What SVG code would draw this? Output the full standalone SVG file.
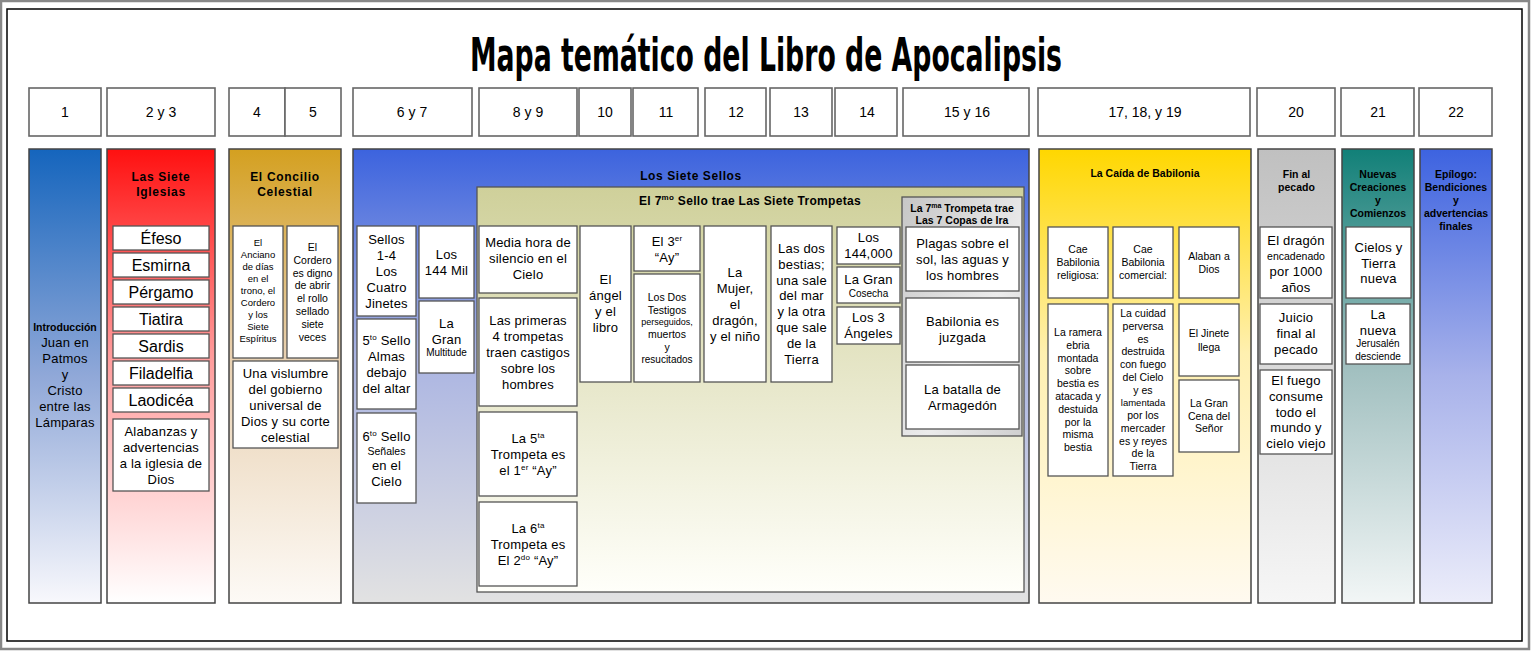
<svg xmlns="http://www.w3.org/2000/svg" width="1536" height="652" viewBox="0 0 1536 652">
<defs>
<linearGradient id="gBlue1" x1="0" y1="0" x2="0" y2="1"><stop offset="0" stop-color="#1565bd"/><stop offset="0.5" stop-color="#90a8d8"/><stop offset="1" stop-color="#f8f8fc"/></linearGradient>
<linearGradient id="gRed" x1="0" y1="0" x2="0" y2="1"><stop offset="0" stop-color="#ff1010"/><stop offset="0.45" stop-color="#ff9a9a"/><stop offset="1" stop-color="#ffffff"/></linearGradient>
<linearGradient id="gGold" x1="0" y1="0" x2="0" y2="1"><stop offset="0" stop-color="#d4a020"/><stop offset="0.45" stop-color="#e8d0b0"/><stop offset="1" stop-color="#fdfaf6"/></linearGradient>
<linearGradient id="gSeals" x1="0" y1="0" x2="0" y2="1"><stop offset="0" stop-color="#3c63de"/><stop offset="0.45" stop-color="#aab4e2"/><stop offset="1" stop-color="#e2e2e2"/></linearGradient>
<linearGradient id="gOlive" x1="0" y1="0" x2="0" y2="1"><stop offset="0" stop-color="#cfd09a"/><stop offset="0.5" stop-color="#e8e8cc"/><stop offset="1" stop-color="#fffffa"/></linearGradient>
<linearGradient id="gGray7" x1="0" y1="0" x2="1" y2="1"><stop offset="0" stop-color="#c6c6c6"/><stop offset="0.6" stop-color="#ececec"/><stop offset="1" stop-color="#cfcfcf"/></linearGradient>
<linearGradient id="gYellow" x1="0" y1="0" x2="0" y2="1"><stop offset="0" stop-color="#ffd700"/><stop offset="0.45" stop-color="#fff0b0"/><stop offset="1" stop-color="#fffaf0"/></linearGradient>
<linearGradient id="gGray" x1="0" y1="0" x2="0" y2="1"><stop offset="0" stop-color="#c0c0c0"/><stop offset="1" stop-color="#f6f6f6"/></linearGradient>
<linearGradient id="gTeal" x1="0" y1="0" x2="0" y2="1"><stop offset="0" stop-color="#118078"/><stop offset="0.45" stop-color="#9cbcbc"/><stop offset="1" stop-color="#f2f6f6"/></linearGradient>
<linearGradient id="gBlue2" x1="0" y1="0" x2="0" y2="1"><stop offset="0" stop-color="#3d63e0"/><stop offset="0.5" stop-color="#a8b2ea"/><stop offset="1" stop-color="#ecedfa"/></linearGradient>
</defs>
<style>
text{font-family:"Liberation Sans",Arial,sans-serif;fill:#000;text-anchor:middle}
.hdr rect{fill:#fff;stroke:#666;stroke-width:1.6}
.hdr text{font-size:14px}
.col{stroke:#444;stroke-width:1.5}
.box{fill:#fff;stroke:#555;stroke-width:1.3}
.t16{font-size:16px}
.t13{font-size:13px;letter-spacing:0.2px}
.t105{font-size:10.5px}
.t10{font-size:10px}
.t95{font-size:9.5px}
.t9{font-size:9px}
.b12{font-size:12px;font-weight:bold;letter-spacing:0.7px}
.b105{font-size:10.5px;font-weight:bold}
.title{font-family:"Liberation Sans Narrow","DejaVu Sans Condensed","Liberation Sans",sans-serif;font-weight:bold;font-size:46px}
</style>
<rect x="1" y="1" width="1528" height="648" fill="#fff" stroke="#888" stroke-width="2.5"/>
<rect x="7" y="9" width="1515" height="632" fill="#fff" stroke="#000" stroke-width="1.5"/>
<text id="title" class="title" x="766" y="71" textLength="592" lengthAdjust="spacingAndGlyphs">Mapa temático del Libro de Apocalipsis</text>

<g id="headers" class="hdr">
<rect x="29" y="88" width="72" height="48"/><text x="65" y="117">1</text>
<rect x="107" y="88" width="108" height="48"/><text x="161" y="117">2 y 3</text>
<rect x="229" y="88" width="56" height="48"/><text x="257" y="117">4</text>
<rect x="285" y="88" width="56" height="48"/><text x="313" y="117">5</text>
<rect x="353" y="88" width="119" height="48"/><text x="412" y="117">6 y 7</text>
<rect x="479" y="88" width="98" height="48"/><text x="528" y="117">8 y 9</text>
<rect x="579" y="88" width="52" height="48"/><text x="605" y="117">10</text>
<rect x="633" y="88" width="65" height="48"/><text x="666" y="117">11</text>
<rect x="705" y="88" width="61" height="48"/><text x="736" y="117">12</text>
<rect x="770" y="88" width="62" height="48"/><text x="801" y="117">13</text>
<rect x="835" y="88" width="62" height="48"/><text x="867" y="117">14</text>
<rect x="903" y="88" width="126" height="48"/><text x="967" y="117">15 y 16</text>
<rect x="1038" y="88" width="212" height="48"/><text x="1145" y="117">17, 18, y 19</text>
<rect x="1257" y="88" width="78" height="48"/><text x="1296" y="117">20</text>
<rect x="1341" y="88" width="73" height="48"/><text x="1378" y="117">21</text>
<rect x="1419" y="88" width="73" height="48"/><text x="1456" y="117">22</text>
</g>

<g id="col-intro">
<rect class="col" x="29" y="149" width="72" height="454" fill="url(#gBlue1)"/>
<text class="b105" x="65" y="331">Introducción</text>
<text class="t13" x="65" y="347">Juan en<tspan x="65" dy="15.5">Patmos</tspan><tspan x="65" dy="16">y</tspan><tspan x="65" dy="16">Cristo</tspan><tspan x="65" dy="16">entre las</tspan><tspan x="65" dy="16">Lámparas</tspan></text>
</g>

<g id="col-iglesias">
<rect class="col" x="107" y="149" width="108" height="454" fill="url(#gRed)"/>
<text class="b12" x="161" y="181">Las Siete<tspan x="161" dy="15">Iglesias</tspan></text>
<g id="n-efeso"><rect class="box" x="113" y="226" width="96" height="24"/><text class="t16" x="161" y="244">Éfeso</text></g>
<g id="n-esmirna"><rect class="box" x="113" y="253" width="96" height="24"/><text class="t16" x="161" y="271">Esmirna</text></g>
<g id="n-pergamo"><rect class="box" x="113" y="280" width="96" height="24"/><text class="t16" x="161" y="298">Pérgamo</text></g>
<g id="n-tiatira"><rect class="box" x="113" y="307" width="96" height="24"/><text class="t16" x="161" y="325">Tiatira</text></g>
<g id="n-sardis"><rect class="box" x="113" y="334" width="96" height="24"/><text class="t16" x="161" y="352">Sardis</text></g>
<g id="n-filadelfia"><rect class="box" x="113" y="361" width="96" height="24"/><text class="t16" x="161" y="379">Filadelfia</text></g>
<g id="n-laodicea"><rect class="box" x="113" y="388" width="96" height="24"/><text class="t16" x="161" y="406">Laodicéa</text></g>
<g id="n-alabanzas"><rect class="box" x="113" y="419" width="96" height="72"/><text class="t13" x="161" y="436">Alabanzas y<tspan x="161" dy="16">advertencias</tspan><tspan x="161" dy="16">a la iglesia de</tspan><tspan x="161" dy="16">Dios</tspan></text></g>
</g>

<g id="col-concilio">
<rect class="col" x="229" y="149" width="112" height="454" fill="url(#gGold)"/>
<text class="b12" x="285" y="181">El Concilio<tspan x="285" dy="15">Celestial</tspan></text>
<g id="n-anciano"><rect class="box" x="233" y="226" width="50" height="132"/><text class="t95" x="258" y="246">El<tspan x="258" dy="12">Anciano</tspan><tspan x="258" dy="12">de días</tspan><tspan x="258" dy="12">en el</tspan><tspan x="258" dy="12">trono, el</tspan><tspan x="258" dy="12">Cordero</tspan><tspan x="258" dy="12">y los</tspan><tspan x="258" dy="12">Siete</tspan><tspan x="258" dy="12">Espíritus</tspan></text></g>
<g id="n-cordero"><rect class="box" x="287" y="226" width="51" height="132"/><text class="t105" x="312.5" y="251">El<tspan x="312.5" dy="12.8">Cordero</tspan><tspan x="312.5" dy="12.8">es digno</tspan><tspan x="312.5" dy="12.8">de abrir</tspan><tspan x="312.5" dy="12.8">el rollo</tspan><tspan x="312.5" dy="12.8">sellado</tspan><tspan x="312.5" dy="12.8">siete</tspan><tspan x="312.5" dy="12.8">veces</tspan></text></g>
<g id="n-vislumbre"><rect class="box" x="233" y="361" width="105" height="87"/><text class="t13" x="285.5" y="378">Una vislumbre<tspan x="285.5" dy="16">del gobierno</tspan><tspan x="285.5" dy="16">universal de</tspan><tspan x="285.5" dy="16">Dios y su corte</tspan><tspan x="285.5" dy="16">celestial</tspan></text></g>
</g>

<g id="col-sellos">
<rect class="col" x="353" y="149" width="676" height="454" fill="url(#gSeals)"/>
<text class="t13" x="691" y="180" style="font-weight:bold;font-size:12px;letter-spacing:0.6px">Los Siete Sellos</text>
<g id="n-sellos14"><rect class="box" x="357" y="226" width="59" height="90"/><text class="t13" x="386.5" y="244">Sellos<tspan x="386.5" dy="16">1-4</tspan><tspan x="386.5" dy="16">Los</tspan><tspan x="386.5" dy="16">Cuatro</tspan><tspan x="386.5" dy="16">Jinetes</tspan></text></g>
<g id="n-144mil"><rect class="box" x="419" y="226" width="55" height="72"/><text class="t13" x="446.5" y="259">Los<tspan x="446.5" dy="16">144 Mil</tspan></text></g>
<g id="n-sello5"><rect class="box" x="357" y="319" width="59" height="90"/><text class="t13" x="386.5" y="345">5<tspan font-size="8" dy="-5">to</tspan><tspan dy="5"> Sello</tspan><tspan x="386.5" dy="16">Almas</tspan><tspan x="386.5" dy="16">debajo</tspan><tspan x="386.5" dy="16">del altar</tspan></text></g>
<g id="n-multitud"><rect class="box" x="419" y="301" width="55" height="72"/><text class="t13" x="446.5" y="328">La<tspan x="446.5" dy="16">Gran</tspan></text><text class="t10" x="446.5" y="356">Multitude</text></g>
<g id="n-sello6"><rect class="box" x="357" y="413" width="59" height="90"/><text class="t13" x="386.5" y="441">6<tspan font-size="8" dy="-5">to</tspan><tspan dy="5"> Sello</tspan></text><text class="t105" x="386.5" y="455">Señales</text><text class="t13" x="386.5" y="470">en el<tspan x="386.5" dy="16">Cielo</tspan></text></g>

<g id="panel-trompetas">
<rect x="477" y="187" width="547" height="405" fill="url(#gOlive)" stroke="#555" stroke-width="1.3"/>
<text class="b12" x="750" y="205" style="letter-spacing:0.3px">El 7<tspan font-size="8" dy="-5">mo</tspan><tspan dy="5"> Sello trae Las Siete Trompetas</tspan></text>
<g id="n-mediahora"><rect class="box" x="479" y="226" width="98" height="67"/><text class="t13" x="528" y="247">Media hora de<tspan x="528" dy="16">silencio en el</tspan><tspan x="528" dy="16">Cielo</tspan></text></g>
<g id="n-primeras"><rect class="box" x="479" y="298" width="98" height="108"/><text class="t13" x="528" y="325">Las primeras<tspan x="528" dy="16">4 trompetas</tspan><tspan x="528" dy="16">traen castigos</tspan><tspan x="528" dy="16">sobre los</tspan><tspan x="528" dy="16">hombres</tspan></text></g>
<g id="n-trompeta5"><rect class="box" x="479" y="412" width="98" height="84"/><text class="t13" x="528" y="443">La 5<tspan font-size="8" dy="-5">ta</tspan><tspan x="528" dy="21">Trompeta es</tspan><tspan x="528" dy="16">el  1</tspan><tspan font-size="8" dy="-5">er</tspan><tspan dy="5"> “Ay”</tspan></text></g>
<g id="n-trompeta6"><rect class="box" x="479" y="502" width="98" height="84"/><text class="t13" x="528" y="533">La 6<tspan font-size="8" dy="-5">ta</tspan><tspan x="528" dy="21">Trompeta es</tspan><tspan x="528" dy="16">El 2</tspan><tspan font-size="8" dy="-5">do</tspan><tspan dy="5"> “Ay”</tspan></text></g>
<g id="n-angel"><rect class="box" x="580" y="226" width="51" height="156"/><text class="t13" x="605.5" y="284">El<tspan x="605.5" dy="16">ángel</tspan><tspan x="605.5" dy="16">y el</tspan><tspan x="605.5" dy="16">libro</tspan></text></g>
<g id="n-ay3"><rect class="box" x="634" y="226" width="66" height="45"/><text class="t13" x="667" y="246">El 3<tspan font-size="8" dy="-5">er</tspan><tspan x="667" dy="21">“Ay”</tspan></text></g>
<g id="n-testigos"><rect class="box" x="634" y="274" width="66" height="108"/><text class="t105" x="667" y="301">Los Dos<tspan x="667" dy="12.5">Testigos</tspan></text><text class="t9" x="667" y="325">perseguidos,</text><text class="t105" x="667" y="338">muertos<tspan x="667" dy="12.5">y</tspan></text><text class="t10" x="667" y="363">resucitados</text></g>
<g id="n-mujer"><rect class="box" x="704" y="226" width="62" height="156"/><text class="t13" x="735" y="277">La<tspan x="735" dy="16">Mujer,</tspan><tspan x="735" dy="16">el</tspan><tspan x="735" dy="16">dragón,</tspan><tspan x="735" dy="16">y el niño</tspan></text></g>
<g id="n-bestias"><rect class="box" x="771" y="226" width="61" height="156"/><text class="t13" x="801.5" y="253">Las dos<tspan x="801.5" dy="15.8">bestias;</tspan><tspan x="801.5" dy="15.8">una sale</tspan><tspan x="801.5" dy="15.8">del mar</tspan><tspan x="801.5" dy="15.8">y la otra</tspan><tspan x="801.5" dy="15.8">que sale</tspan><tspan x="801.5" dy="15.8">de la</tspan><tspan x="801.5" dy="15.8">Tierra</tspan></text></g>
<g id="n-144000"><rect class="box" x="837" y="227" width="63" height="37"/><text class="t13" x="868.5" y="242">Los<tspan x="868.5" dy="16">144,000</tspan></text></g>
<g id="n-cosecha"><rect class="box" x="837" y="267" width="63" height="36"/><text class="t13" x="868.5" y="284">La Gran</text><text class="t10" x="868.5" y="297">Cosecha</text></g>
<g id="n-3angeles"><rect class="box" x="837" y="307" width="63" height="37"/><text class="t13" x="868.5" y="322">Los 3<tspan x="868.5" dy="16">Ángeles</tspan></text></g>

<g id="panel-copas">
<rect x="902" y="197" width="120" height="239" fill="url(#gGray7)" stroke="#555" stroke-width="1.3"/>
<text class="b105" x="962" y="212">La 7<tspan font-size="7" dy="-4">ma</tspan><tspan dy="4"> Trompeta trae</tspan><tspan x="962" dy="12">Las 7 Copas de Ira</tspan></text>
<g id="n-plagas"><rect class="box" x="906" y="227" width="113" height="64"/><text class="t13" x="962.5" y="248">Plagas sobre el<tspan x="962.5" dy="16">sol, las aguas y</tspan><tspan x="962.5" dy="16">los hombres</tspan></text></g>
<g id="n-juzgada"><rect class="box" x="906" y="298" width="113" height="64"/><text class="t13" x="962.5" y="326">Babilonia es<tspan x="962.5" dy="16">juzgada</tspan></text></g>
<g id="n-armagedon"><rect class="box" x="906" y="365" width="113" height="64"/><text class="t13" x="962.5" y="394">La batalla de<tspan x="962.5" dy="16">Armagedón</tspan></text></g>
</g>
</g>
</g>

<g id="col-babilonia">
<rect class="col" x="1039" y="149" width="212" height="454" fill="url(#gYellow)"/>
<text class="b105" x="1145" y="177">La Caída de Babilonia</text>
<g id="n-religiosa"><rect class="box" x="1048" y="227" width="60" height="71"/><text class="t105" x="1078" y="253">Cae<tspan x="1078" dy="13">Babilonia</tspan><tspan x="1078" dy="13">religiosa:</tspan></text></g>
<g id="n-comercial"><rect class="box" x="1113" y="227" width="60" height="71"/><text class="t105" x="1143" y="253">Cae<tspan x="1143" dy="13">Babilonia</tspan><tspan x="1143" dy="13">comercial:</tspan></text></g>
<g id="n-alaban"><rect class="box" x="1179" y="227" width="60" height="71"/><text class="t105" x="1209" y="260">Alaban a<tspan x="1209" dy="13">Dios</tspan></text></g>
<g id="n-ramera"><rect class="box" x="1048" y="304" width="60" height="172"/><text class="t105" x="1078" y="336">La ramera<tspan x="1078" dy="12.8">ebria</tspan><tspan x="1078" dy="12.8">montada</tspan><tspan x="1078" dy="12.8">sobre</tspan><tspan x="1078" dy="12.8">bestia es</tspan><tspan x="1078" dy="12.8">atacada y</tspan><tspan x="1078" dy="12.8">destuida</tspan><tspan x="1078" dy="12.8">por la</tspan><tspan x="1078" dy="12.8">misma</tspan><tspan x="1078" dy="12.8">bestia</tspan></text></g>
<g id="n-cuidad"><rect class="box" x="1113" y="304" width="60" height="172"/><text class="t105" x="1143" y="317">La cuidad<tspan x="1143" dy="12.75">perversa</tspan><tspan x="1143" dy="12.75">es</tspan><tspan x="1143" dy="12.75">destruida</tspan><tspan x="1143" dy="12.75">con fuego</tspan><tspan x="1143" dy="12.75">del Cielo</tspan><tspan x="1143" dy="12.75">y es</tspan><tspan x="1143" dy="12.75" font-size="9.5">lamentada</tspan><tspan x="1143" dy="12.75">por los</tspan><tspan x="1143" dy="12.75">mercader</tspan><tspan x="1143" dy="12.75">es y reyes</tspan><tspan x="1143" dy="12.75">de la</tspan><tspan x="1143" dy="12.75">Tierra</tspan></text></g>
<g id="n-jinete"><rect class="box" x="1179" y="304" width="60" height="72"/><text class="t105" x="1209" y="337">El Jinete<tspan x="1209" dy="13.5">llega</tspan></text></g>
<g id="n-cena"><rect class="box" x="1179" y="380" width="60" height="72"/><text class="t105" x="1209" y="407">La Gran<tspan x="1209" dy="12.5">Cena del</tspan><tspan x="1209" dy="12.5">Señor</tspan></text></g>
</g>

<g id="col-fin">
<rect class="col" x="1258" y="149" width="77" height="454" fill="url(#gGray)"/>
<text class="b105" x="1296.5" y="178">Fin al<tspan x="1296.5" dy="13">pecado</tspan></text>
<g id="n-dragon"><rect class="box" x="1260" y="227" width="72" height="71"/><text class="t13" x="1296" y="245">El dragón</text><text class="t105" x="1296" y="260">encadenado</text><text class="t13" x="1296" y="276">por 1000<tspan x="1296" dy="16">años</tspan></text></g>
<g id="n-juicio"><rect class="box" x="1260" y="304" width="72" height="60"/><text class="t13" x="1296" y="322">Juicio<tspan x="1296" dy="16">final al</tspan><tspan x="1296" dy="16">pecado</tspan></text></g>
<g id="n-fuego"><rect class="box" x="1260" y="370" width="72" height="84"/><text class="t13" x="1296" y="385">El fuego<tspan x="1296" dy="15.8">consume</tspan><tspan x="1296" dy="15.8">todo el</tspan><tspan x="1296" dy="15.8">mundo y</tspan><tspan x="1296" dy="15.8">cielo viejo</tspan></text></g>
</g>

<g id="col-nuevas">
<rect class="col" x="1342" y="149" width="72" height="454" fill="url(#gTeal)"/>
<text class="b105" x="1378" y="178">Nuevas<tspan x="1378" dy="13">Creaciones</tspan><tspan x="1378" dy="13">y</tspan><tspan x="1378" dy="13">Comienzos</tspan></text>
<g id="n-cielos"><rect class="box" x="1346" y="227" width="65" height="71"/><text class="t13" x="1378.5" y="252">Cielos y<tspan x="1378.5" dy="15.5">Tierra</tspan><tspan x="1378.5" dy="15.5">nueva</tspan></text></g>
<g id="n-jerusalen"><rect class="box" x="1346" y="304" width="64" height="60"/><text class="t13" x="1378" y="319">La<tspan x="1378" dy="16">nueva</tspan></text><text class="t10" x="1378" y="347">Jerusalén<tspan x="1378" dy="13">desciende</tspan></text></g>
</g>

<g id="col-epilogo">
<rect class="col" x="1420" y="149" width="72" height="454" fill="url(#gBlue2)"/>
<text class="b105" x="1456" y="178">Epílogo:<tspan x="1456" dy="13">Bendiciones</tspan><tspan x="1456" dy="13">y</tspan><tspan x="1456" dy="13">advertencias</tspan><tspan x="1456" dy="13">finales</tspan></text>
</g>

<g id="connectors"/>
</svg>
